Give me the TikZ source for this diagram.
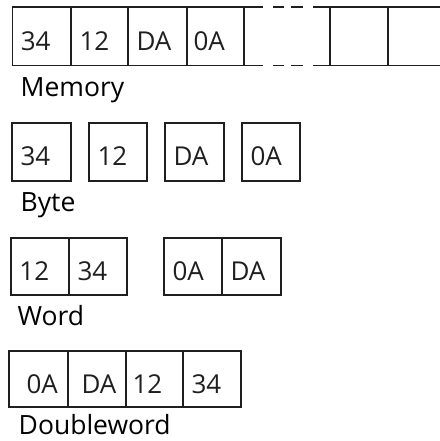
\documentclass[tikz,border=0pt]{standalone}
\usepackage{fontspec}
\setmainfont{Open Sans}
\begin{document}
\begin{tikzpicture}[x=1pt,y=-1pt,
  frame/.style={line width=1.6pt, black!88},
  cell/.style={frame, draw, anchor=north west, inner xsep=8.5pt, inner ysep=0pt,
    outer sep=0pt, font=\fontsize{26}{26}\selectfont, align=left,
    text height=33pt, text depth=5pt},
  rowlabel/.style={anchor=base west, inner sep=0pt, font=\fontsize{26.5}{26.5}\selectfont},
  gapline/.style={frame, dash pattern=on 19pt off 10pt on 11pt off 7pt on 12pt off 10pt on 19pt off 20pt}]
\useasboundingbox (0,0) rectangle (439,441);

% memory strip, with a break between the fourth and fifth cell
\node[cell,minimum height=58.4pt,text width=41.7pt] (m1) at (12.3,7.3) {34};
\node[cell,minimum height=58.4pt,text width=40pt] (m2) at (71,7.3) {12};
\node[cell,minimum height=58.4pt,text width=42pt] (m3) at (128,7.3) {DA};
\node[cell,minimum height=58.4pt,inner xsep=6.5pt,text width=44pt] (m4) at (187,7.3) {0A};
\node[cell,minimum height=58.4pt,text width=41pt] (m5) at (330,7.3) {};
\coordinate (mtop) at (441,7.3);
\coordinate (mbot) at (441,65.7);
\draw[gapline] (m4.north east) -- (m5.north west);
\draw[gapline] (m4.south east) -- (m5.south west);
\draw[frame] (m5.north east) -- (mtop);
\draw[frame] (m5.south east) -- (mbot);
\node[rowlabel] (lmem) at (20.5,96.7) {Memory};

% single bytes
\node[cell,minimum height=58pt,text width=42pt] (b1) at (12,122.7) {34};
\node[cell,minimum height=58pt,text width=41pt] (b2) at (89,122.7) {12};
\node[cell,minimum height=58pt,text width=42pt] (b3) at (165,122.7) {DA};
\node[cell,minimum height=58pt,text width=41pt] (b4) at (242,122.7) {0A};
\node[rowlabel] (lbyte) at (20.5,211) {Byte};

% words
\node[cell,minimum height=57.5pt,text width=41pt] (w1) at (11,237.7) {12};
\node[cell,minimum height=57.5pt,text width=41pt] (w2) at (69,237.7) {34};
\node[cell,minimum height=57.5pt,text width=41pt] (w3) at (164,237.7) {0A};
\node[cell,minimum height=57.5pt,text width=42pt] (w4) at (222,237.7) {DA};
\node[rowlabel] (lword) at (17.5,325) {Word};

% doubleword
\node[cell,minimum height=56pt,inner xsep=0pt,text width=59pt] (d1) at (9,351) {\hspace*{17.5pt}0A};
\node[cell,minimum height=56pt,inner xsep=0pt,text width=58pt] (d2) at (68,351) {\hspace*{13.5pt}DA};
\node[cell,minimum height=56pt,inner xsep=6.5pt,text width=44pt] (d3) at (126,351) {12};
\node[cell,minimum height=56pt,text width=41pt] (d4) at (183,351) {34};
\node[rowlabel] (ldw) at (18.5,434) {Doubleword};
\end{tikzpicture}
\end{document}
